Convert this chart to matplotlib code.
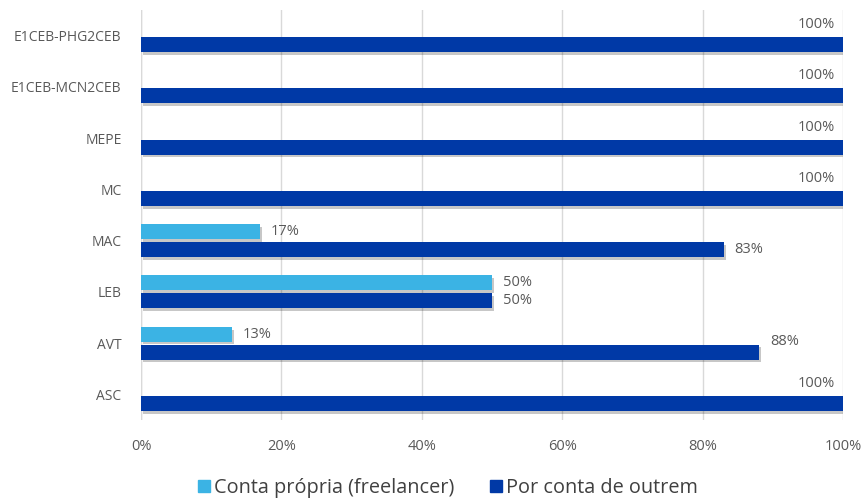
import matplotlib
matplotlib.use("Agg")
import matplotlib.pyplot as plt
import matplotlib.patheffects as pe
from matplotlib.patches import Rectangle
from matplotlib.ticker import FuncFormatter
import numpy as np

plt.rcParams['font.family'] = ['Open Sans', 'DejaVu Sans']

categories = ["E1CEB-PHG2CEB", "E1CEB-MCN2CEB", "MEPE", "MC", "MAC", "LEB", "AVT", "ASC"]
freelancer = [0, 0, 0, 0, 17, 50, 13, 0]
employed = [100, 100, 100, 100, 83, 50, 88, 100]
series_names = ["Conta própria (freelancer)", "Por conta de outrem"]
x_ticks = [0, 20, 40, 60, 80, 100]

light = "#3BB3E4"
dark = "#0039A6"
text_col = "#595959"

fig = plt.figure(figsize=(8.64, 5.0), dpi=100)
ax = fig.add_axes([0.1632, 0.16, 0.8125, 0.82])

n = len(categories)
ypos = np.arange(n)[::-1].astype(float)
h = 0.29
off = 0.175
shadow = [pe.withSimplePatchShadow(offset=(1.5, -2), shadow_rgbFace="#000000", alpha=0.22)]

fl_vals = np.array(freelancer) / 100
em_vals = np.array(employed) / 100

b1 = ax.barh(ypos + off, fl_vals, height=h, color=light, zorder=3)
b2 = ax.barh(ypos - off, em_vals, height=h, color=dark, zorder=3)
for bars in (b1, b2):
    for p in bars:
        p.set_path_effects(shadow)

lab_kw = dict(color=text_col, fontsize=10.5, va="center", zorder=5)
for y, v in zip(ypos, fl_vals):
    if v > 0:
        ax.text(v + 0.015, y + off, f"{v:.0%}", ha="left", **lab_kw)
for y, v, fv in zip(ypos, em_vals, fl_vals):
    if v >= 1.0:
        ax.text(v - 0.012, y + off + 0.04, f"{v:.0%}", ha="right", **lab_kw)
    elif fv > 0 and v > 0.85:
        ax.text(v + 0.016, y + 0.04, f"{v:.0%}", ha="left", **lab_kw)
    else:
        ax.text(v + 0.015, y - off, f"{v:.0%}", ha="left", **lab_kw)

ax.set_xlim(0, 1.0)
ax.set_ylim(-0.5, n - 0.5)
ax.set_xticks([t / 100 for t in x_ticks])
ax.xaxis.set_major_formatter(FuncFormatter(lambda v, _: f"{v:.0%}"))
ax.set_yticks(ypos)
ax.set_yticklabels(categories)
ax.tick_params(axis="both", length=0, colors=text_col, labelsize=10)
ax.tick_params(axis="x", pad=14, labelsize=10.5)
ax.tick_params(axis="y", pad=14)
ax.grid(axis="x", color="#D9D9D9", linewidth=1, zorder=0)
for s in ax.spines.values():
    s.set_visible(False)
ax.axvline(0, color="#D9D9D9", linewidth=1, zorder=1)

handles = [Rectangle((0, 0), 1, 1, color=light), Rectangle((0, 0), 1, 1, color=dark)]
fig.legend(handles=handles, labels=series_names, loc="center", bbox_to_anchor=(0.518, 0.024),
           ncol=2, frameon=False, fontsize=14.3, handlelength=0.6, handleheight=0.6,
           handletextpad=0.2, columnspacing=1.8, labelcolor="#404040")

fig.savefig("out.png", dpi=100)
